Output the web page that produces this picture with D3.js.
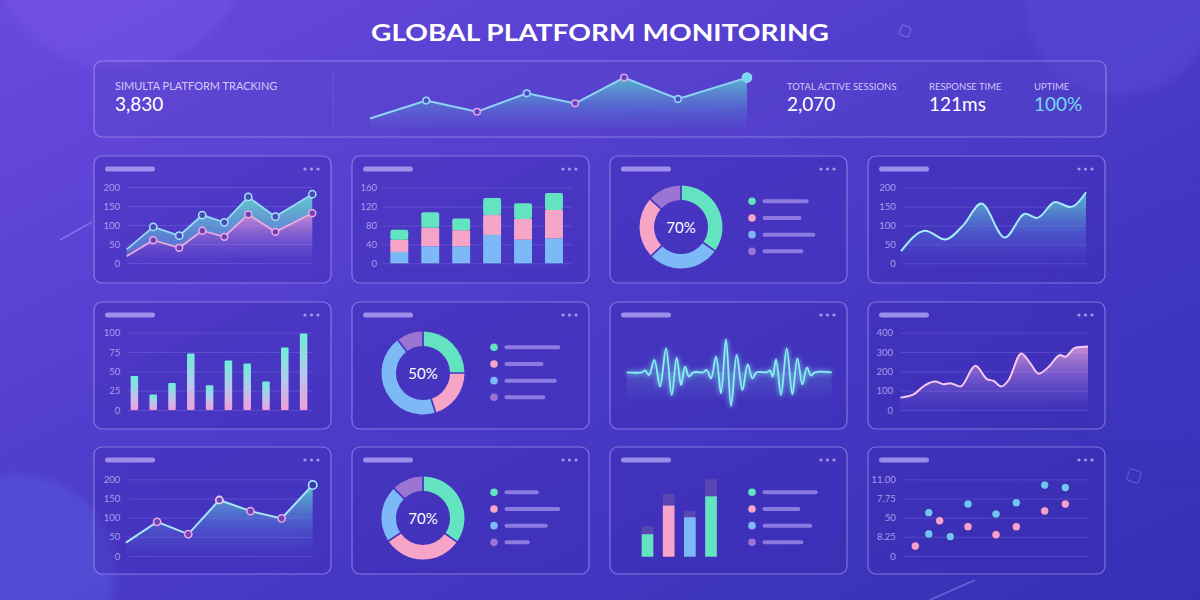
<!DOCTYPE html>
<html><head><meta charset="utf-8">
<script src="https://cdn.jsdelivr.net/npm/d3@7"></script>
<style>html,body{margin:0;padding:0;background:#4a3cc8;overflow:hidden}svg{display:block}</style>
</head><body><svg id="c" width="1200" height="600"></svg>
<script>
// ---------------- DATA ----------------
const titleText = "GLOBAL PLATFORM MONITORING";
const headerLabels = ["SIMULTA PLATFORM TRACKING", "TOTAL ACTIVE SESSIONS", "RESPONSE TIME", "UPTIME"];
const headerValues = ["3,830", "2,070", "121ms", "100%"];
const headerX = [0, 1.49, 2.84, 4.16, 5.44, 6.74, 8.17, 10];
const headerY = [17, 49, 29, 62, 44, 90, 52, 90];
const headerTag = ["", "a", "b", "a", "b", "b", "a", "end"];

const p1X = [0, 1.43, 2.83, 4.07, 5.26, 6.55, 8.01, 10];
const p1A = [36, 95, 72, 126, 107, 174, 122, 181];
const p1B = [18, 60, 40, 85, 69, 128, 82, 131];
const ticks200 = [0, 50, 100, 150, 200];

const p2Blue = [24, 36, 36, 60, 50, 53];
const p2Pink = [26, 39, 34, 42, 44, 60];
const p2Green = [21, 33, 25, 36, 33, 36];
const p2Ticks = [0, 40, 80, 120, 160];

const donutCats = ["green", "blue", "pink", "purple"];
const p3Vals = [35, 28, 24, 13];          // green, blue, pink, purple
const p3Label = "70%";
const p3Legend = [77, 65, 88, 68];

const p4X = [0, 1.31, 2.39, 3.37, 4.34, 5.61, 6.72, 7.35, 8.34, 9.15, 10];
const p4Y = [32, 86, 63, 101, 158, 68, 131, 120, 162, 149, 188];

const p5Vals = [44, 20, 35, 73, 32, 64, 60, 37, 81, 99];
const p5Ticks = [0, 25, 50, 75, 100];

const p6Cats = ["green", "pink", "blue", "purple"];
const p6Vals = [25, 20, 45, 10];
const p6Label = "50%";
const p6Legend = [93, 65, 87, 68];

const p7T = [0, 45, 55, 67, 83, 100, 118, 135, 150, 163, 175, 187, 200, 230, 240, 253, 268, 283, 298, 313, 330, 347, 363, 377, 390, 420, 430, 438, 448, 463, 480, 497, 512, 527, 541, 553, 565, 615];
const p7A = [0, 0, 2, -2.7, 12.3, -14.3, 24, -22.7, 14.7, -12.7, 5.7, -4.3, 0, 0, 2.3, -6, 15.7, -21, 33, -33.7, 17.3, -17.7, 8, -6, 0, 0, 2, -4.3, 13, -22.7, 24, -22, 14, -12, 4.7, -3.3, 0, 0];

const p8X = [0, 0.71, 1.33, 1.87, 2.31, 2.66, 3.2, 4.0, 4.62, 4.98, 5.38, 5.77, 6.45, 6.93, 7.37, 7.91, 8.52, 8.79, 9.32, 10];
const p8Y = [64, 81, 129, 147, 133, 138, 121, 229, 160, 150, 121, 155, 293, 241, 188, 224, 284, 276, 322, 328];
const p8Ticks = [0, 100, 200, 300, 400];

const p9Y = [35, 89, 57, 146, 117, 98, 185];
const p9Tag = ["", "b", "b", "w", "b", "b", "end"];

const p10Cats = ["green", "pink", "blue", "purple"];
const p10Vals = [35, 31, 22, 12];
const p10Label = "70%";
const p10Legend = [57, 93, 72, 42];

const p11Cats = ["green", "pink", "blue", "green"];
const p11Vals = [29, 66, 51, 78];
const p11Ghost = [39, 81, 59, 100];
const p11LegendCats = ["green", "pink", "blue", "purple"];
const p11Legend = [92, 63, 83, 68];

const p12TickLabels = ["0", "8.25", "50", "7.75", "11.00"];
const p12BlueX = [1.36, 1.36, 2.53, 3.49, 5.01, 6.11, 7.65, 8.77];
const p12BlueY = [2.26, 1.15, 1.01, 2.71, 2.19, 2.78, 3.70, 3.57];
const p12PinkX = [0.63, 1.95, 3.49, 5.01, 6.11, 7.65, 8.77];
const p12PinkY = [0.52, 1.84, 1.53, 1.11, 1.53, 2.35, 2.71];

// ---------------- STYLE ----------------
const C = {green: "#63e3c0", blue: "#7db9f6", pink: "#f6a5c9", purple: "#9b74d4"};
const FONT = "Lato, 'Open Sans', sans-serif";
const tickCol = "rgba(210,200,255,0.72)";
const gridCol = "rgba(175,165,255,0.22)";

const svg = d3.select("#c");
const defs = svg.append("defs");

function lin(id, stops, x2 = 0, y2 = 1, user) {
  const g = defs.append("linearGradient").attr("id", id).attr("x1", 0).attr("y1", 0).attr("x2", x2).attr("y2", y2);
  if (user) g.attr("gradientUnits", "userSpaceOnUse").attr("x1", user[0]).attr("y1", user[1]).attr("x2", user[2]).attr("y2", user[3]);
  stops.forEach(s => g.append("stop").attr("offset", s[0]).attr("stop-color", s[1]).attr("stop-opacity", s[2] == null ? 1 : s[2]));
}
lin("bg", [[0, "#6a4ade"], [0.45, "#4e3ccb"], [1, "#3430b4"]], 1, 1);
lin("teal", [[0, "#62e0cf", 0.8], [0.6, "#5a8ae0", 0.35], [1, "#5a60d0", 0.03]]);
lin("tealTop", [[0, "#68e2d0", 0.85], [1, "#6aa0e6", 0.45]]);
lin("pinkA", [[0, "#f2a6dc", 0.75], [0.6, "#b58ae0", 0.3], [1, "#8a70d8", 0.03]]);
lin("barG", [[0, "#6cefd6"], [0.55, "#b9c6f0"], [1, "#ef9fd6"]]);
lin("hdrArea", [[0, "#5ad8d0", 0.8], [1, "#5a7ad8", 0.05]], 0, 1, [0, 76, 0, 130]);
lin("waveGlow", [[0, "#7fe8f0", 0.16], [1, "#7fe8f0", 0]]);

const glow = defs.append("filter").attr("id", "glow").attr("x", "-20%").attr("y", "-50%").attr("width", "140%").attr("height", "200%");
glow.append("feGaussianBlur").attr("stdDeviation", 2.5).attr("result", "b");
const fm = glow.append("feMerge");
fm.append("feMergeNode").attr("in", "b");
fm.append("feMergeNode").attr("in", "SourceGraphic");

const soft = defs.append("filter").attr("id", "soft").attr("x", "-50%").attr("y", "-50%").attr("width", "200%").attr("height", "200%");
soft.append("feGaussianBlur").attr("stdDeviation", 18);
const soft2 = defs.append("filter").attr("id", "soft2").attr("x", "-50%").attr("y", "-50%").attr("width", "200%").attr("height", "200%");
soft2.append("feGaussianBlur").attr("stdDeviation", 4);

// ---------------- BACKGROUND ----------------
svg.append("rect").attr("width", 1200).attr("height", 600).attr("fill", "url(#bg)");
const deco = svg.append("g");
deco.append("circle").attr("cx", 120).attr("cy", -60).attr("r", 130).attr("fill", "#7d5ceb").attr("opacity", 0.35).attr("filter", "url(#soft2)");
deco.append("circle").attr("cx", 1120).attr("cy", 0).attr("r", 95).attr("fill", "#6a5ae8").attr("opacity", 0.25).attr("filter", "url(#soft2)");
deco.append("circle").attr("cx", 20).attr("cy", 570).attr("r", 95).attr("fill", "#5a64e6").attr("opacity", 0.4).attr("filter", "url(#soft2)");
deco.append("circle").attr("cx", 1190).attr("cy", 330).attr("r", 120).attr("fill", "#3c36c2").attr("opacity", 0.5).attr("filter", "url(#soft)");
deco.append("line").attr("x1", 60).attr("y1", 240).attr("x2", 92).attr("y2", 222).attr("stroke", "rgba(190,200,255,0.35)").attr("stroke-width", 1.5);
deco.append("line").attr("x1", 930).attr("y1", 600).attr("x2", 975).attr("y2", 580).attr("stroke", "rgba(190,200,255,0.35)").attr("stroke-width", 1.5);
deco.append("rect").attr("x", 900).attr("y", 26).attr("width", 10).attr("height", 10).attr("rx", 2).attr("transform", "rotate(20 905 31)").attr("fill", "none").attr("stroke", "rgba(200,190,255,0.35)");
deco.append("rect").attr("x", 1128).attr("y", 470).attr("width", 12).attr("height", 12).attr("rx", 2).attr("transform", "rotate(20 1134 476)").attr("fill", "none").attr("stroke", "rgba(200,190,255,0.3)");

// ---------------- TITLE ----------------
svg.append("text").attr("x", 371).attr("y", 41).attr("textLength", 458).attr("lengthAdjust", "spacingAndGlyphs")
  .attr("font-family", FONT).attr("font-weight", 700).attr("font-size", 23).attr("fill", "#ffffff").text(titleText);

// ---------------- HEADER ----------------
const panelFill = "rgba(60,42,175,0.38)";
const panelStroke = "rgba(195,180,255,0.5)";
svg.append("rect").attr("x", 94).attr("y", 61).attr("width", 1012).attr("height", 76).attr("rx", 8)
  .attr("fill", "rgba(90,70,200,0.35)").attr("stroke", panelStroke).attr("stroke-width", 1.2);
svg.append("line").attr("x1", 333).attr("x2", 333).attr("y1", 70).attr("y2", 128).attr("stroke", "rgba(190,175,255,0.15)");

const hlX = [115, 787, 929, 1034];
headerLabels.forEach((t, i) => {
  svg.append("text").attr("x", hlX[i]).attr("y", 90).attr("font-family", FONT).attr("font-size", i === 0 ? 11 : 9.5)
    .attr("fill", "rgba(225,218,255,0.9)").text(t);
  svg.append("text").attr("x", hlX[i]).attr("y", 111).attr("font-family", FONT).attr("font-size", 19)
    .attr("fill", i === 3 ? "#72d8f2" : "#ffffff").text(headerValues[i]);
});

{
  const x = d3.scaleLinear().domain([0, 10]).range([370, 747]);
  const y = d3.scaleLinear().domain([0, 100]).range([128, 72]);
  const pts = headerX.map((v, i) => [v, headerY[i]]);
  svg.append("path").datum(pts).attr("fill", "url(#hdrArea)")
    .attr("d", d3.area().x(d => x(d[0])).y0(y(0)).y1(d => y(d[1])));
  svg.append("path").datum(pts).attr("fill", "none").attr("stroke", "#8ed4f4").attr("stroke-width", 2)
    .attr("d", d3.line().x(d => x(d[0])).y(d => y(d[1])));
  svg.selectAll(".hm").data(pts.filter((d, i) => headerTag[i] !== "")).enter().append("circle")
    .attr("cx", d => x(d[0])).attr("cy", d => y(d[1]))
    .attr("r", (d) => headerTag[headerX.indexOf(d[0])] === "end" ? 4.5 : 3.3)
    .attr("fill", d => headerTag[headerX.indexOf(d[0])] === "end" ? "#78d8f0" : "#5544c4")
    .attr("stroke", d => { const t = headerTag[headerX.indexOf(d[0])]; return t === "b" ? "#e79ee0" : "#8fd6f6"; })
    .attr("stroke-width", 1.6);
}

// ---------------- PANELS ----------------
const colsX = [94, 352, 610, 868], rowsY = [156, 302, 447], PW = 237, PH = 127;
function frame(c, r) {
  const x0 = colsX[c], y0 = rowsY[r];
  const g = svg.append("g");
  g.append("rect").attr("x", x0).attr("y", y0).attr("width", PW).attr("height", PH).attr("rx", 8)
    .attr("fill", panelFill).attr("stroke", panelStroke).attr("stroke-width", 1.2);
  g.append("rect").attr("x", x0 + 11).attr("y", y0 + 10.5).attr("width", 50).attr("height", 5).attr("rx", 2.5)
    .attr("fill", "rgba(205,190,255,0.65)");
  [26, 19.5, 13].forEach(d => g.append("circle").attr("cx", x0 + PW - d).attr("cy", y0 + 13).attr("r", 1.6).attr("fill", "rgba(205,195,255,0.7)"));
  return {x0, y0};
}
function yAxis(scale, ticks, gx0, gx1, pad, fmt) {
  const ax = d3.axisLeft(scale).tickValues(ticks).tickSize(-(gx1 - gx0)).tickPadding(pad);
  if (fmt) ax.tickFormat(fmt);
  const g = svg.append("g").attr("transform", `translate(${gx0},0)`).call(ax);
  g.select(".domain").remove();
  g.selectAll("line").attr("stroke", gridCol);
  g.selectAll("text").attr("fill", tickCol).attr("font-family", FONT).attr("font-size", 9.5);
  return g;
}
function donut(c, r, cats, vals, label, legend, legendCats) {
  const f = frame(c, r);
  const cx = f.x0 + 71, cy = f.y0 + 71;
  const pie = d3.pie().sort(null).padAngle(0.035)(vals);
  const arc = d3.arc().innerRadius(27).outerRadius(41.5);
  svg.append("g").attr("transform", `translate(${cx},${cy})`).selectAll("path").data(pie).enter().append("path")
    .attr("d", arc).attr("fill", (d, i) => C[cats[i]]);
  svg.append("text").attr("x", cx).attr("y", cy + 5.5).attr("text-anchor", "middle").attr("font-family", FONT)
    .attr("font-size", 15).attr("fill", "#ffffff").text(label);
  legendBlock(f, legendCats || ["green", "pink", "blue", "purple"], legend);
}
function legendBlock(f, cats, legend) {
  const lx = d3.scaleLinear().domain([0, 100]).range([0, 60]);
  const ly = d3.scaleLinear().domain([0, 3]).range([f.y0 + 45.3, f.y0 + 95.3]);
  legend.forEach((v, i) => {
    svg.append("circle").attr("cx", f.x0 + 142).attr("cy", ly(i)).attr("r", 3.8).attr("fill", C[cats[i]]);
    svg.append("rect").attr("x", f.x0 + 152.5).attr("y", ly(i) - 2).attr("width", lx(v)).attr("height", 4).attr("rx", 2)
      .attr("fill", "rgba(190,172,250,0.6)");
  });
}

// Panel 1
{
  frame(0, 0);
  const x = d3.scaleLinear().domain([0, 10]).range([126.7, 312.3]);
  const y = d3.scaleLinear().domain([0, 200]).range([263, 187]);
  yAxis(y, ticks200, 128, 312, 8);
  const idx = d3.range(p1X.length);
  svg.append("path").datum(idx).attr("fill", "url(#pinkA)")
    .attr("d", d3.area().x(i => x(p1X[i])).y0(y(0)).y1(i => y(p1B[i])));
  svg.append("path").datum(idx).attr("fill", "url(#tealTop)")
    .attr("d", d3.area().x(i => x(p1X[i])).y0(i => y(p1B[i])).y1(i => y(p1A[i])));
  svg.append("path").datum(idx).attr("fill", "none").attr("stroke", "#f0a8e0").attr("stroke-width", 1.8)
    .attr("d", d3.line().x(i => x(p1X[i])).y(i => y(p1B[i])));
  svg.append("path").datum(idx).attr("fill", "none").attr("stroke", "#94dcf2").attr("stroke-width", 1.8)
    .attr("d", d3.line().x(i => x(p1X[i])).y(i => y(p1A[i])));
  idx.slice(1).forEach(i => {
    svg.append("circle").attr("cx", x(p1X[i])).attr("cy", y(p1B[i])).attr("r", 3.4).attr("fill", "#6a3fb8").attr("stroke", "#f2a8e2").attr("stroke-width", 1.5);
    svg.append("circle").attr("cx", x(p1X[i])).attr("cy", y(p1A[i])).attr("r", 3.6).attr("fill", "#4c4ab8").attr("stroke", "#a6e2f8").attr("stroke-width", 1.5);
  });
}

// Panel 2
{
  frame(1, 0);
  const y = d3.scaleLinear().domain([0, 160]).range([263.3, 187.7]);
  yAxis(y, p2Ticks, 382, 572, 5);
  const x = d3.scaleBand().domain(d3.range(p2Blue.length)).range([383.85, 569.45]).paddingInner(0.42).paddingOuter(0.21);
  const rows = p2Blue.map((b, i) => ({blue: b, pink: p2Pink[i], green: p2Green[i]}));
  const st = d3.stack().keys(["blue", "pink", "green"])(rows);
  st.forEach(layer => {
    svg.append("g").selectAll("rect").data(layer).enter().append("rect")
      .attr("x", (d, i) => x(i)).attr("width", x.bandwidth())
      .attr("y", d => y(d[1])).attr("height", d => y(d[0]) - y(d[1]))
      .attr("rx", layer.key === "green" ? 2 : 0).attr("fill", C[layer.key]);
  });
}

// Panel 3
donut(2, 0, donutCats, p3Vals, p3Label, p3Legend);

// Panel 4
{
  frame(3, 0);
  const x = d3.scaleLinear().domain([0, 10]).range([901, 1086]);
  const y = d3.scaleLinear().domain([0, 200]).range([263.3, 187.7]);
  yAxis(y, ticks200, 903.7, 1087, 8);
  const idx = d3.range(p4X.length);
  svg.append("path").datum(idx).attr("fill", "url(#teal)")
    .attr("d", d3.area().curve(d3.curveMonotoneX).x(i => x(p4X[i])).y0(y(0)).y1(i => y(p4Y[i])));
  svg.append("path").datum(idx).attr("fill", "none").attr("stroke", "#a6ecf8").attr("stroke-width", 2)
    .attr("d", d3.line().curve(d3.curveMonotoneX).x(i => x(p4X[i])).y(i => y(p4Y[i])));
}

// Panel 5
{
  frame(0, 1);
  const y = d3.scaleLinear().domain([0, 100]).range([410, 332.7]);
  yAxis(y, p5Ticks, 128.3, 311.7, 8);
  const x = d3.scaleBand().domain(d3.range(p5Vals.length)).range([125, 313]).paddingInner(0.6).paddingOuter(0.3);
  svg.append("g").selectAll("rect").data(p5Vals).enter().append("rect")
    .attr("x", (d, i) => x(i)).attr("width", x.bandwidth()).attr("y", d => y(d)).attr("height", d => y(0) - y(d))
    .attr("rx", 1).attr("fill", "url(#barG)");
}

// Panel 6
donut(1, 1, p6Cats, p6Vals, p6Label, p6Legend);

// Panel 7
{
  frame(2, 1);
  const x = d3.scaleLinear().domain([0, 615]).range([626.7, 831.7]);
  const y = d3.scaleLinear().domain([-40, 40]).range([412.3, 332.3]);
  svg.append("rect").attr("x", 626.7).attr("y", y(0)).attr("width", 205).attr("height", 30).attr("fill", "url(#waveGlow)");
  const idx = d3.range(p7T.length);
  svg.append("path").datum(idx).attr("fill", "none").attr("stroke", "#86f2f2").attr("stroke-width", 1.8)
    .attr("filter", "url(#glow)")
    .attr("d", d3.line().curve(d3.curveCatmullRom.alpha(0.5)).x(i => x(p7T[i])).y(i => y(p7A[i])));
}

// Panel 8
{
  frame(3, 1);
  const x = d3.scaleLinear().domain([0, 10]).range([900.3, 1088]);
  const y = d3.scaleLinear().domain([0, 400]).range([410, 332.7]);
  yAxis(y, p8Ticks, 901, 1088, 8);
  const idx = d3.range(p8X.length);
  svg.append("path").datum(idx).attr("fill", "url(#pinkA)")
    .attr("d", d3.area().curve(d3.curveMonotoneX).x(i => x(p8X[i])).y0(y(0)).y1(i => y(p8Y[i])));
  svg.append("path").datum(idx).attr("fill", "none").attr("stroke", "#f8c8ee").attr("stroke-width", 2)
    .attr("d", d3.line().curve(d3.curveMonotoneX).x(i => x(p8X[i])).y(i => y(p8Y[i])));
}

// Panel 9
{
  frame(0, 2);
  const x = d3.scalePoint().domain(d3.range(p9Y.length)).range([126, 312.7]);
  const y = d3.scaleLinear().domain([0, 200]).range([556, 479.3]);
  yAxis(y, ticks200, 128.3, 311.7, 8);
  const idx = d3.range(p9Y.length);
  svg.append("path").datum(idx).attr("fill", "url(#teal)")
    .attr("d", d3.area().x(i => x(i)).y0(y(0)).y1(i => y(p9Y[i])));
  svg.append("path").datum(idx).attr("fill", "none").attr("stroke", "#a8e6f6").attr("stroke-width", 2)
    .attr("d", d3.line().x(i => x(i)).y(i => y(p9Y[i])));
  idx.filter(i => p9Tag[i] !== "").forEach(i => {
    const t = p9Tag[i];
    svg.append("circle").attr("cx", x(i)).attr("cy", y(p9Y[i])).attr("r", t === "end" ? 4.2 : 3.6)
      .attr("fill", t === "end" ? "#3a3aa8" : "#6a44b8")
      .attr("stroke", t === "end" ? "#a8e8fa" : t === "w" ? "#f4d0f4" : "#f0a4e0").attr("stroke-width", 1.6);
  });
}

// Panel 10
donut(1, 2, p10Cats, p10Vals, p10Label, p10Legend);

// Panel 11
{
  const f = frame(2, 2);
  const x = d3.scaleBand().domain(d3.range(p11Vals.length)).range([637, 721.5]).paddingInner(0.45).paddingOuter(0.22);
  const y = d3.scaleLinear().domain([0, 100]).range([556.7, 479.3]);
  svg.append("g").selectAll("rect").data(p11Ghost).enter().append("rect")
    .attr("x", (d, i) => x(i)).attr("width", x.bandwidth()).attr("y", d => y(d)).attr("height", d => y(0) - y(d))
    .attr("fill", "rgba(95,75,175,0.85)");
  svg.append("g").selectAll("rect").data(p11Vals).enter().append("rect")
    .attr("x", (d, i) => x(i)).attr("width", x.bandwidth()).attr("y", d => y(d)).attr("height", d => y(0) - y(d))
    .attr("fill", (d, i) => C[p11Cats[i]]);
  legendBlock(f, p11LegendCats, p11Legend);
}

// Panel 12
{
  frame(3, 2);
  const x = d3.scaleLinear().domain([0, 10]).range([903.7, 1088]);
  const y = d3.scaleLinear().domain([0, 4]).range([556, 479.3]);
  yAxis(y, d3.range(p12TickLabels.length), 903.7, 1088, 8, i => p12TickLabels[i]);
  const g = svg.append("g");
  p12PinkX.forEach((v, i) => g.append("circle").attr("cx", x(v)).attr("cy", y(p12PinkY[i])).attr("r", 4.2)
    .attr("fill", "#f3a0d2").attr("stroke", "rgba(60,30,140,0.6)").attr("stroke-width", 1.2));
  p12BlueX.forEach((v, i) => g.append("circle").attr("cx", x(v)).attr("cy", y(p12BlueY[i])).attr("r", 4.2)
    .attr("fill", "#72c4f6").attr("stroke", "rgba(40,30,140,0.6)").attr("stroke-width", 1.2));
}
</script></body></html>
